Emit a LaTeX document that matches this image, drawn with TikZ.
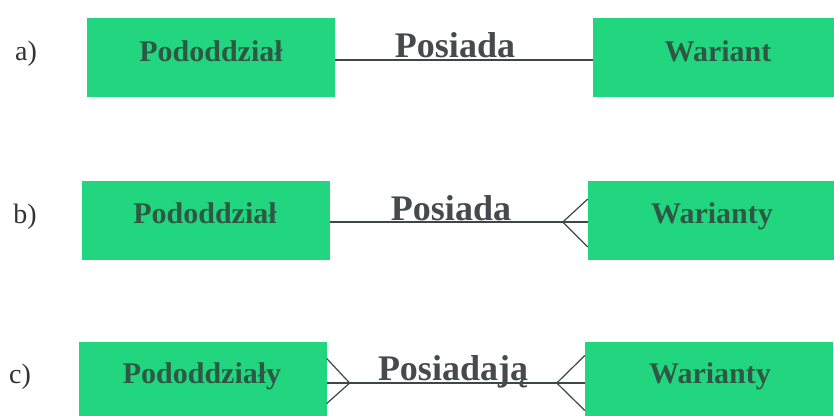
\documentclass[tikz,border=0pt]{standalone}
\usepackage{fontspec}
\setmainfont{Liberation Serif}
\begin{document}
\definecolor{entgreen}{RGB}{34,214,128}
\definecolor{enttext}{RGB}{46,88,68}
\definecolor{reltext}{RGB}{70,74,78}
\definecolor{linecol}{RGB}{58,72,70}
\definecolor{labcol}{RGB}{50,50,50}
\begin{tikzpicture}[x=1pt,y=-1pt,
  entity/.style={fill=entgreen, draw=none, minimum width=248pt, minimum height=79pt, inner sep=0pt},
  enttxt/.style={anchor=base, text=enttext, font=\fontsize{30}{34}\selectfont\bfseries, inner sep=0pt},
  reltxt/.style={anchor=base, text=reltext, font=\fontsize{36}{40}\selectfont\bfseries, inner sep=0pt},
  casetxt/.style={anchor=base, text=labcol, font=\fontsize{28}{32}\selectfont, inner sep=0pt},
  rel/.style={draw=linecol, line width=1.4pt},
  crow/.style={draw=linecol, line width=1.2pt}]
\useasboundingbox (0,0) rectangle (834,415);
\fill[white] (0,0) rectangle (834,415);
\begin{scope}
\clip (0,0) rectangle (834,415);

% ---- a) one-to-one
\node[casetxt] (la) at (26,60) {a)};
\node[entity] (pa) at (211,57) {};
\node[entity] (wa) at (717,57) {};
\node[enttxt] (tpa) at (211,61) {Pododdział};
\node[enttxt] (twa) at (718,61) {Wariant};
\draw[rel] ([yshift=-3pt]pa.east) -- ([yshift=-3pt]wa.west);
\node[reltxt] (ra) at (455,57) {Posiada};

% ---- b) one-to-many
\node[casetxt] (lb) at (25,223) {b)};
\node[entity] (pb) at (205.5,220) {};
\node[entity] (wb) at (712,220) {};
\node[enttxt] (tpb) at (205,223) {Pododdział};
\node[enttxt] (twb) at (712,223) {Warianty};
\draw[rel] ([yshift=-2pt]pb.east) -- ([yshift=-2pt]wb.west);
\node[reltxt] (rb) at (451,220) {Posiada};
\coordinate (cb) at ([xshift=-25pt,yshift=-2pt]wb.west);
\draw[crow] ([yshift=21pt]wb.west) -- (cb) -- ([yshift=-27pt]wb.west);

% ---- c) many-to-many
\node[casetxt] (lc) at (20,383) {c)};
\node[entity] (pc) at (202.5,381.5) {};
\node[entity] (wc) at (709,381.5) {};
\node[enttxt] (tpc) at (202,383) {Pododdziały};
\node[enttxt] (twc) at (710,383) {Warianty};
\draw[rel] ([yshift=-1.5pt]pc.east) -- ([yshift=-1.5pt]wc.west);
\node[reltxt] (rc) at (453,380) {Posiadają};
\coordinate (cl) at ([xshift=23pt,yshift=-1.5pt]pc.east);
\draw[crow] ([yshift=23pt]pc.east) -- (cl) -- ([yshift=-22pt]pc.east);
\coordinate (cr) at ([xshift=-28pt,yshift=-1.5pt]wc.west);
\draw[crow] ([yshift=26pt]wc.west) -- (cr) -- ([yshift=-29pt]wc.west);
\end{scope}
\end{tikzpicture}
\end{document}
